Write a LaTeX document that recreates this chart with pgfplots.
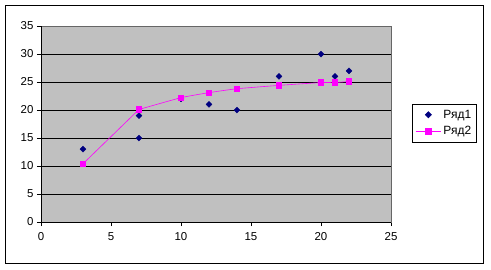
\documentclass[border=0pt]{standalone}
\usepackage{fontspec}
\setmainfont{Liberation Sans}
\usepackage{pgfplots}
\pgfplotsset{compat=1.18}
\definecolor{navyc}{HTML}{000080}
\definecolor{magc}{HTML}{FF00FF}
\definecolor{plotbg}{HTML}{C0C0C0}
\begin{document}
\begin{tikzpicture}[x=1bp,y=1bp]
\begin{axis}[
  scale only axis, width=350bp, height=196bp,
  xmin=0, xmax=25, ymin=0, ymax=35,
  xtick={0,5,...,25}, ytick={0,5,...,35},
  xtick pos=left, ytick pos=left,
  tick align=outside, major tick length=4bp,
  tick style={black, line width=0.8pt},
  axis background/.style={fill=plotbg},
  axis line style={draw=gray!80!black, line width=0.8pt},
  ymajorgrids, major grid style={black, line width=0.8pt},
  /pgf/number format/assume math mode=true,
  ticklabel style={font=\fontsize{11.5}{13}\selectfont},
  xticklabel style={yshift=-3bp},
  clip=false,
  legend style={at={(rel axis cs:1.06,0.602)}, anchor=north west, draw=black, line width=0.8pt, fill=white, font=\fontsize{12}{14}\selectfont, inner xsep=3pt, inner ysep=3.5pt, row sep=3pt},
  legend image code/.code={\draw[mark repeat=2,mark phase=2] plot coordinates {(0cm,0cm) (0.45cm,0cm) (0.9cm,0cm)};},
  legend cell align=left,
]
\path (rel axis cs:-0.1171,-0.2398) rectangle (rel axis cs:1.2857,1.1327);
\draw[black, line width=0.8pt] (rel axis cs:-0.1029,-0.209) rectangle (rel axis cs:1.264,1.107);
\draw[black, line width=0.8pt] (rel axis cs:0,1) -- (rel axis cs:0,0) -- (rel axis cs:1,0);
\addplot[only marks, mark=square*, mark size=2.1pt, mark options={rotate=45}, color=navyc] coordinates {
(3,13) (7,19) (7,15) (10,22) (12,21) (14,20) (17,26) (20,30) (21,26) (22,27)};
\addlegendentry{Ряд1}
\addplot[magc, line width=0.6pt, mark=square*, mark size=2.8pt, mark options={solid, fill=magc, draw=magc}] coordinates {
(3,10.4) (7,20.1)};
\addlegendentry{Ряд2}
\addplot[magc, line width=0.6pt, smooth, tension=0.3, mark=square*, mark size=2.8pt, mark options={solid, fill=magc, draw=magc}, forget plot] coordinates {
(7,20.1) (10,22.2) (12,23.1) (14,23.8) (17,24.4) (20,24.9) (21,24.9) (22,25.1)};
\end{axis}
\end{tikzpicture}
\end{document}
